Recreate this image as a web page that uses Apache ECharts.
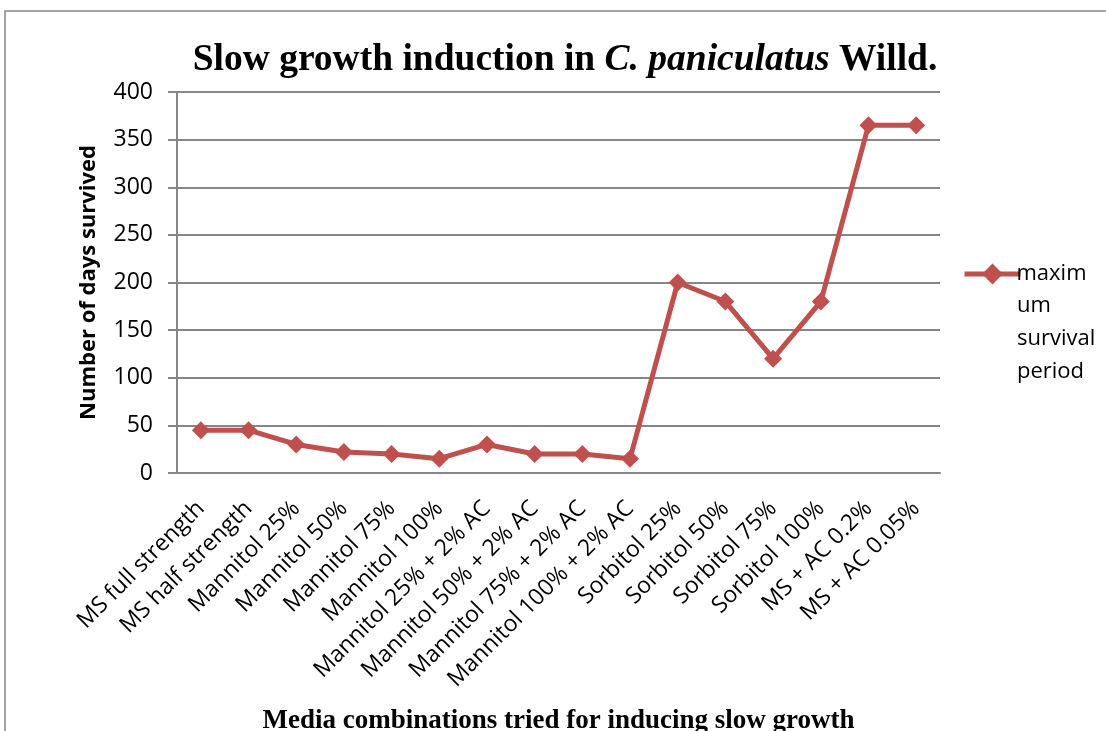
<!DOCTYPE html>
<html>
<head>
<meta charset="utf-8">
<script src="https://cdn.jsdelivr.net/npm/echarts@6/dist/echarts.min.js"></script>
<style>
  html, body { margin: 0; padding: 0; background: #fff; }
  #chart { width: 1106px; height: 731px; }
</style>
</head>
<body>
<div id="chart"></div>
<script>
const media = [
  'MS full strength', 'MS half strength', 'Mannitol 25%', 'Mannitol 50%',
  'Mannitol 75%', 'Mannitol 100%', 'Mannitol 25% + 2% AC', 'Mannitol 50% + 2% AC',
  'Mannitol 75% + 2% AC', 'Mannitol 100% + 2% AC', 'Sorbitol 25%', 'Sorbitol 50%',
  'Sorbitol 75%', 'Sorbitol 100%', 'MS + AC 0.2%', 'MS + AC 0.05%'
];
const survivalDays = [45, 45, 30, 22, 20, 15, 30, 20, 20, 15, 200, 180, 120, 180, 365, 365];
const seriesName = 'maximum survival period';

const red = '#C0504D';
const gray = '#868686';
const labelFont = 'Open Sans';

// legend text wraps in the original, only the first piece sits next to the icon
const legendLines = ['um', 'survival', 'period'];

const chart = echarts.init(document.getElementById('chart'));
chart.setOption({
  animation: false,
  title: {
    text: '{b|Slow growth induction in }{i|C. paniculatus}{b| Willd.}',
    left: 560,
    top: 36,
    textAlign: 'center',
    textStyle: {
      rich: {
        b: { fontFamily: 'Liberation Serif', fontWeight: 'bold', fontSize: 37.5, color: '#000' },
        i: { fontFamily: 'Liberation Serif', fontWeight: 'bold', fontStyle: 'italic', fontSize: 37.5, color: '#000' }
      }
    }
  },
  legend: {
    left: 957,
    top: 258,
    itemWidth: 56,
    itemHeight: 26,
    itemGap: 0,
    formatter: () => 'maxim',
    lineStyle: { width: 5 },
    textStyle: { fontFamily: labelFont, fontSize: 22, color: '#000', padding: [0, 0, 0, -9] },
    data: [seriesName]
  },
  grid: { left: 177, right: 166, top: 92, bottom: 258, outerBoundsMode: 'none' },
  xAxis: {
    type: 'category',
    data: media,
    name: 'Media combinations tried for inducing slow growth',
    nameLocation: 'middle',
    nameGap: 235,
    nameTextStyle: { fontFamily: 'Liberation Serif', fontWeight: 'bold', fontSize: 27, color: '#000' },
    axisLine: { lineStyle: { color: gray, width: 2 } },
    axisTick: { length: 8, lineStyle: { color: gray, width: 2 } },
    axisLabel: { rotate: 45, fontFamily: labelFont, fontSize: 23, color: '#000', margin: 32, interval: 0 }
  },
  yAxis: {
    type: 'value',
    min: 0,
    max: 400,
    interval: 50,
    name: 'Number of days survived',
    nameLocation: 'middle',
    nameGap: 77,
    nameTextStyle: { fontFamily: labelFont, fontWeight: 'bold', fontSize: 22, color: '#000' },
    axisLine: { show: true, lineStyle: { color: gray, width: 2 } },
    axisTick: { show: true, length: 9, lineStyle: { color: gray, width: 2 } },
    axisLabel: { fontFamily: labelFont, fontSize: 23, color: '#000', margin: 24 },
    splitLine: { lineStyle: { color: gray, width: 2 } }
  },
  series: [{
    name: seriesName,
    type: 'line',
    data: survivalDays,
    symbol: 'diamond',
    symbolSize: 18,
    itemStyle: { color: red },
    lineStyle: { color: red, width: 5 }
  }],
  graphic: [
    {
      type: 'rect',
      shape: { x: 5, y: 11, width: 1120, height: 760 },
      style: { fill: 'none', stroke: gray, lineWidth: 1.5 },
      silent: true
    }
  ].concat(legendLines.map((t, i) => ({
    type: 'text',
    style: {
      x: 1017,
      y: 306 + i * 33,
      text: t,
      textVerticalAlign: 'middle',
      fontFamily: labelFont,
      fontSize: 22,
      fill: '#000'
    }
  })))
});
</script>
</body>
</html>
